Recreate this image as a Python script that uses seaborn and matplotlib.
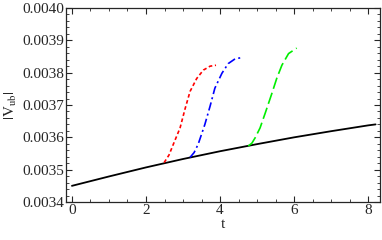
import numpy as np
import pandas as pd
import seaborn as sns
import matplotlib.pyplot as plt
from matplotlib.ticker import MultipleLocator

# values
t_base = [0, 1, 2, 3, 4, 5, 6, 7, 8, 8.2]
v_base = [0.003450, 0.003479, 0.003507, 0.003533, 0.003557, 0.003579, 0.003600, 0.003619, 0.003637, 0.003640]

t_red = [2.49, 2.62, 2.74, 2.92, 3.05, 3.19, 3.37, 3.55, 3.73, 3.89]
v_red = [0.003522, 0.003545, 0.003579, 0.003629, 0.003686, 0.003742, 0.003782, 0.003808, 0.003820, 0.003823]

t_blue = [3.19, 3.30, 3.41, 3.59, 3.73, 3.86, 4.05, 4.22, 4.41, 4.56]
v_blue = [0.003538, 0.003553, 0.003579, 0.003640, 0.003696, 0.003752, 0.003798, 0.003828, 0.003843, 0.003846]

t_green = [4.76, 4.86, 4.95, 5.08, 5.22, 5.40, 5.53, 5.67, 5.85, 6.07]
v_green = [0.003573, 0.003582, 0.003599, 0.003629, 0.003675, 0.003736, 0.003782, 0.003823, 0.003859, 0.003876]

sns.set_style('ticks')
plt.rcParams['font.family'] = ['Liberation Serif', 'DejaVu Serif']
plt.rcParams['mathtext.fontset'] = 'stix'

fig = plt.figure(figsize=(3.82, 2.40), dpi=100)
ax = fig.add_axes([0.1728, 0.1583, 0.822, 0.8084])

sns.lineplot(x=t_base, y=v_base, ax=ax, color='black', linewidth=1.3)
sns.lineplot(x=t_red, y=v_red, ax=ax, color='#ff0000', linewidth=1.2, linestyle=(0, (2.2, 1.6)))
sns.lineplot(x=t_blue, y=v_blue, ax=ax, color='#0000ff', linewidth=1.2, linestyle=(0, (5, 2, 1.2, 2)))
sns.lineplot(x=t_green, y=v_green, ax=ax, color='#00ee00', linewidth=1.2, linestyle=(0, (7, 2.5)))

ax.set_xlim(-0.16, 8.32)
ax.set_ylim(0.0034, 0.0040)
ax.xaxis.set_major_locator(MultipleLocator(2))
ax.xaxis.set_minor_locator(MultipleLocator(0.5))
ax.yaxis.set_major_locator(MultipleLocator(0.0001))
ax.yaxis.set_minor_locator(MultipleLocator(0.00002))
ax.yaxis.set_major_formatter(plt.FuncFormatter(lambda v, p: f'{v:.4f}'))

ax.tick_params(which='both', direction='in', top=True, right=True, labelsize=11, pad=1.5)
ax.tick_params(which='major', length=4, width=0.8)
ax.tick_params(which='minor', length=2, width=0.6)
for s in ax.spines.values():
    s.set_linewidth(0.9)

ax.set_xlabel('t', fontsize=11, labelpad=1)
ax.set_ylabel(r'$|\mathrm{V}_{\mathrm{ub}}|$', fontsize=11, labelpad=2)

fig.savefig('out.png', dpi=100)
